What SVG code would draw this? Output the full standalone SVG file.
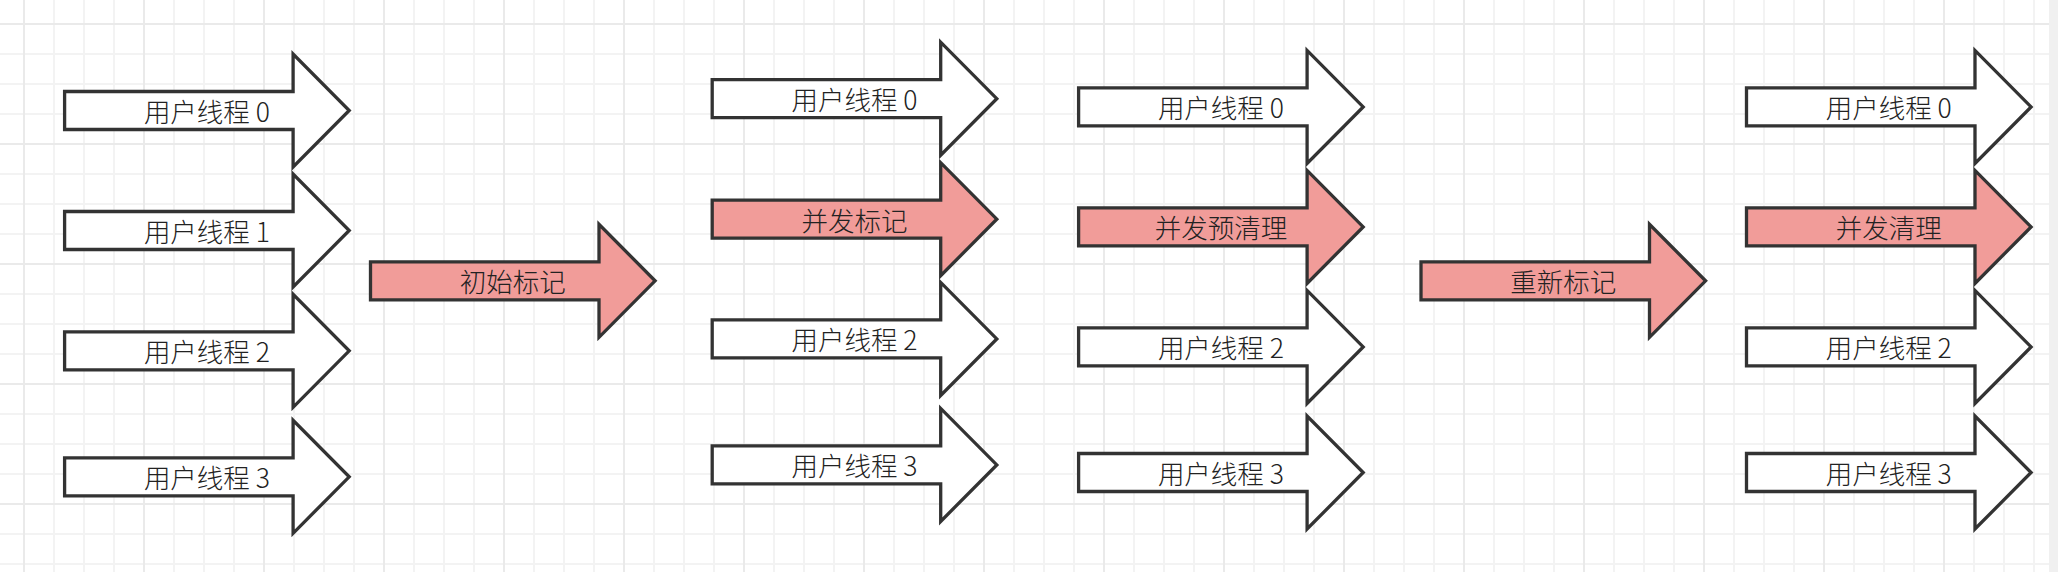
<svg xmlns="http://www.w3.org/2000/svg" xmlns:xlink="http://www.w3.org/1999/xlink" width="2058" height="572" viewBox="0 0 2058 572">
<style>
.w{fill:#ffffff;stroke:#333333;stroke-width:3.3;stroke-linejoin:miter}
.p{fill:#f19c99;stroke:#333333;stroke-width:3.3;stroke-linejoin:miter}
.t{font-family:"Noto Sans CJK SC","Noto Sans",sans-serif;font-size:26.5px;font-weight:300;fill:#222222;text-anchor:middle}
</style>
<defs>
<pattern id="grid" x="9" y="9" width="120" height="120" patternUnits="userSpaceOnUse">
<path d="M45 0V120M75 0V120M105 0V120M0 45H120M0 75H120M0 105H120" stroke="#f3f3f3" stroke-width="2" fill="none"/>
<path d="M15 0V120M0 15H120" stroke="#eaeaea" stroke-width="2" fill="none"/>
</pattern>
<path id="arrow" d="M0 -19H228.5V-56.5L284.6 0L228.5 56.5V19H0Z"/>
</defs>
<rect x="0" y="0" width="2058" height="572" fill="#ffffff"/>
<rect x="0" y="0" width="2049" height="572" fill="url(#grid)"/>
<rect x="2049" y="0" width="9" height="572" fill="#f0f0f0"/>
<g id="connectors"/>
<g id="c1-t0"><use href="#arrow" x="64.6" y="110.5" class="w"/><text class="t" x="206.9" y="122">用户线程 0</text></g>
<g id="c1-t1"><use href="#arrow" x="64.6" y="230.5" class="w"/><text class="t" x="206.9" y="242">用户线程 1</text></g>
<g id="c1-t2"><use href="#arrow" x="64.6" y="350.8" class="w"/><text class="t" x="206.9" y="362.3">用户线程 2</text></g>
<g id="c1-t3"><use href="#arrow" x="64.6" y="476.8" class="w"/><text class="t" x="206.9" y="488.3">用户线程 3</text></g>
<g id="initial-mark"><use href="#arrow" x="370.5" y="280.8" class="p"/><text class="t" x="512.8" y="292.3">初始标记</text></g>
<g id="c2-t0"><use href="#arrow" x="712.2" y="98.7" class="w"/><text class="t" x="854.5" y="110.2">用户线程 0</text></g>
<g id="concurrent-mark"><use href="#arrow" x="712.2" y="219.2" class="p"/><text class="t" x="854.5" y="230.7">并发标记</text></g>
<g id="c2-t2"><use href="#arrow" x="712.2" y="338.9" class="w"/><text class="t" x="854.5" y="350.4">用户线程 2</text></g>
<g id="c2-t3"><use href="#arrow" x="712.2" y="464.9" class="w"/><text class="t" x="854.5" y="476.4">用户线程 3</text></g>
<g id="c3-t0"><use href="#arrow" x="1078.6" y="106.9" class="w"/><text class="t" x="1220.9" y="118.4">用户线程 0</text></g>
<g id="concurrent-preclean"><use href="#arrow" x="1078.6" y="226.9" class="p"/><text class="t" x="1220.9" y="238.4">并发预清理</text></g>
<g id="c3-t2"><use href="#arrow" x="1078.6" y="346.9" class="w"/><text class="t" x="1220.9" y="358.4">用户线程 2</text></g>
<g id="c3-t3"><use href="#arrow" x="1078.6" y="472.5" class="w"/><text class="t" x="1220.9" y="484">用户线程 3</text></g>
<g id="remark"><use href="#arrow" x="1421" y="280.8" class="p"/><text class="t" x="1563.3" y="292.3">重新标记</text></g>
<g id="c5-t0"><use href="#arrow" x="1746.5" y="106.9" class="w"/><text class="t" x="1888.8" y="118.4">用户线程 0</text></g>
<g id="concurrent-sweep"><use href="#arrow" x="1746.5" y="226.9" class="p"/><text class="t" x="1888.8" y="238.4">并发清理</text></g>
<g id="c5-t2"><use href="#arrow" x="1746.5" y="346.9" class="w"/><text class="t" x="1888.8" y="358.4">用户线程 2</text></g>
<g id="c5-t3"><use href="#arrow" x="1746.5" y="472.5" class="w"/><text class="t" x="1888.8" y="484">用户线程 3</text></g>
</svg>
